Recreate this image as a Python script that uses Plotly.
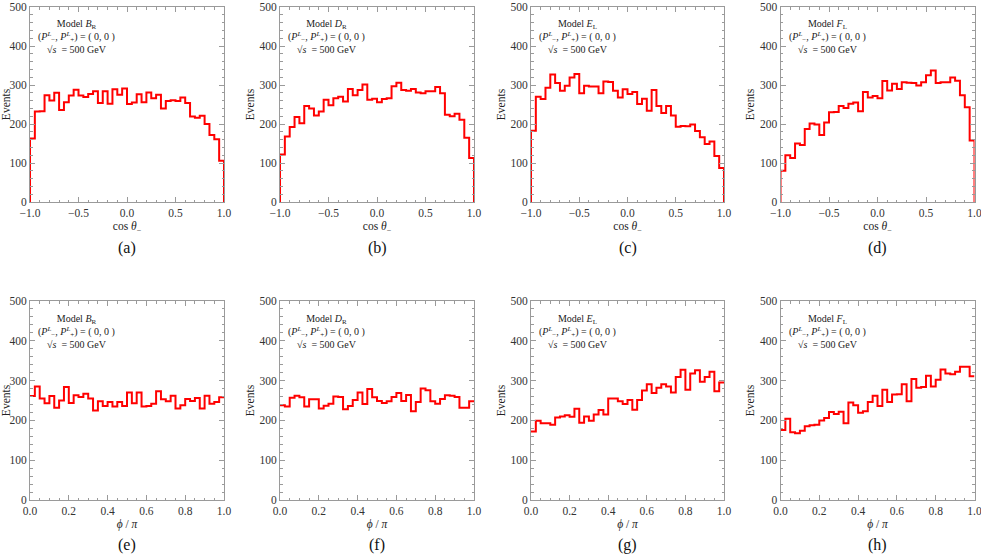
import numpy as np
import plotly.graph_objects as go

# ---- data: 40 bins per panel ----
cos_b_r = [163, 232, 233, 274, 260, 280, 236, 256, 273, 288, 273, 269, 277, 284, 254, 284, 252, 289, 275, 291,
           251, 255, 276, 256, 281, 266, 275, 240, 259, 261, 259, 268, 254, 219, 216, 221, 200, 172, 161, 106]
cos_d_r = [122, 168, 192, 218, 202, 246, 240, 222, 232, 262, 248, 266, 270, 258, 290, 274, 287, 301, 262, 265,
           256, 264, 266, 297, 306, 287, 285, 290, 281, 279, 284, 284, 295, 279, 224, 220, 226, 211, 165, 113]
cos_e_l = [183, 270, 264, 293, 327, 305, 285, 298, 319, 328, 279, 298, 296, 296, 279, 309, 308, 285, 268, 289,
           277, 282, 251, 265, 234, 287, 246, 228, 246, 222, 193, 195, 194, 199, 182, 166, 149, 155, 118, 87]
cos_f_l = [80, 120, 113, 150, 146, 187, 201, 199, 172, 204, 230, 231, 246, 241, 252, 255, 233, 282, 268, 272,
           266, 310, 286, 303, 290, 307, 306, 305, 299, 307, 325, 337, 305, 307, 307, 319, 311, 274, 243, 158]

phi_b_r = [261, 285, 255, 243, 261, 232, 250, 284, 244, 263, 259, 267, 255, 225, 248, 236, 246, 235, 246, 236,
           270, 243, 270, 235, 236, 242, 273, 253, 248, 262, 230, 238, 254, 249, 256, 230, 262, 242, 246, 258]
phi_d_r = [238, 235, 257, 262, 258, 235, 253, 253, 230, 237, 242, 260, 259, 228, 236, 251, 270, 241, 279, 258,
           249, 244, 248, 259, 269, 249, 264, 223, 246, 280, 276, 248, 242, 254, 263, 262, 259, 232, 232, 248]
phi_e_l = [172, 199, 193, 193, 189, 207, 210, 213, 209, 229, 194, 210, 199, 215, 226, 215, 255, 255, 248, 241,
           251, 227, 251, 275, 291, 269, 282, 291, 285, 270, 309, 327, 277, 318, 326, 297, 309, 322, 273, 295]
phi_f_l = [176, 204, 170, 168, 174, 185, 188, 189, 200, 206, 221, 216, 222, 193, 245, 238, 219, 223, 246, 262,
           236, 277, 246, 265, 266, 291, 248, 304, 282, 284, 312, 285, 302, 328, 318, 316, 322, 335, 335, 311]

model_names = ["B<sub>R</sub>", "D<sub>R</sub>", "E<sub>L</sub>", "F<sub>L</sub>"]
panel_labels = ["(a)", "(b)", "(c)", "(d)", "(e)", "(f)", "(g)", "(h)"]

cos_series = [cos_b_r, cos_d_r, cos_e_l, cos_f_l]
phi_series = [phi_b_r, phi_d_r, phi_e_l, phi_f_l]

W, H = 981, 560
col_px = [(30, 224), (280, 474), (531, 724), (780.5, 974.5)]
row_px = [(7, 202), (301, 500)]

SERIF = "Liberation Serif"
FRAME = "#9a9a9a"
TICKCOL = "#333333"

fig = go.Figure()

for r in range(2):
    for c in range(4):
        k = r * 4 + c + 1
        xa = "x" if k == 1 else f"x{k}"
        ya = "y" if k == 1 else f"y{k}"
        if r == 0:
            vals = cos_series[c]
            lo, hi = -1.0, 1.0
        else:
            vals = phi_series[c]
            lo, hi = 0.0, 1.0
        edges = np.linspace(lo, hi, len(vals) + 1)
        if r == 0:
            # histogram drops to zero at both ends
            xs = [lo] + list(edges[:-1]) + [hi, hi]
            ys = [0] + list(vals) + [vals[-1], 0]
        else:
            xs = list(edges)
            ys = list(vals) + [vals[-1]]
        fig.add_trace(go.Scatter(x=xs, y=ys, mode="lines", line=dict(color="#ff0000", width=2, shape="hv"),
                                 xaxis=xa, yaxis=ya, showlegend=False, hoverinfo="skip"))

        x0, x1 = col_px[c]
        y0, y1 = row_px[r]
        xdom = [x0 / W, x1 / W]
        ydom = [1 - y1 / H, 1 - y0 / H]
        common = dict(showline=True, linecolor=FRAME, linewidth=1, mirror="ticks", ticks="inside",
                      tickcolor=FRAME, ticklen=5, showgrid=False, zeroline=False, automargin=False,
                      ticklabeloverflow="allow",
                      tickfont=dict(family=SERIF, size=11.5, color=TICKCOL))
        xkey = "xaxis" if k == 1 else f"xaxis{k}"
        ykey = "yaxis" if k == 1 else f"yaxis{k}"
        fig.update_layout({
            xkey: dict(common, domain=xdom, anchor=ya, range=[lo, hi],
                       dtick=0.5 if r == 0 else 0.2, tick0=lo, tickformat=".1f",
                       minor=dict(ticks="inside", ticklen=2.5, tickcolor=FRAME,
                                  dtick=0.1 if r == 0 else 0.05),
                       title=dict(text="cos <i>θ</i><sub>−</sub>" if r == 0 else "<i>ϕ</i> / <i>π</i>",
                                  font=dict(family=SERIF, size=11.5, color="#222"), standoff=4)),
            ykey: dict(common, domain=ydom, anchor=xa, range=[0, 500], dtick=100,
                       minor=dict(ticks="inside", ticklen=2.5, tickcolor=FRAME, dtick=20),
                       title=dict(text="Events", font=dict(family=SERIF, size=11.5, color="#222"), standoff=2)),
        })

        # model / polarisation / energy label block
        cx = lo + 0.24 * (hi - lo)
        block = (f"Model <i>{model_names[c][0]}</i>{model_names[c][1:]}<br>"
                 "(<i>P</i><sup><i>L</i></sup><sub>−</sub>, <i>P</i><sup><i>L</i></sup><sub>+</sub>) = ( 0, 0 )<br>"
                 "√<i>s</i>  = 500 GeV")
        fig.add_annotation(x=cx, y=424, xref=xa, yref=ya, text=block, showarrow=False, align="center",
                           font=dict(family=SERIF, size=10, color="#222"), xanchor="center", yanchor="middle")

        # panel letter
        fig.add_annotation(x=(x0 + x1) / 2 / W, y=1 - (248 if r == 0 else 545) / H, xref="paper", yref="paper",
                           text=panel_labels[k - 1], showarrow=False,
                           font=dict(family=SERIF, size=16, color="#111"), xanchor="center", yanchor="middle")

fig.update_layout(width=W, height=H, margin=dict(l=0, r=0, t=0, b=0), template="none",
                  paper_bgcolor="white", plot_bgcolor="white")

# the page body has a default 8px margin; drop it so the figure fills the window
fig.write_html("out.html", config={"displayModeBar": False},
               post_script="document.body.style.margin='0px';")
